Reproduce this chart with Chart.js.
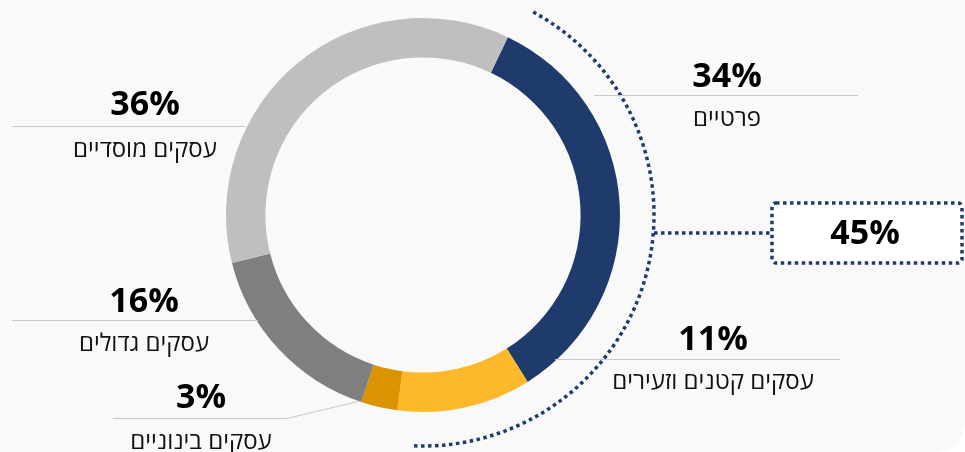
<!DOCTYPE html>
<html lang="he">
<head>
<meta charset="utf-8">
<script src="https://cdn.jsdelivr.net/npm/chart.js@4"></script>
<style>
  html, body { margin: 0; padding: 0; background: #ffffff; }
  #wrap { position: relative; width: 965px; height: 452px; background: #f9f9f9; border-bottom-right-radius: 30px; overflow: hidden; }
  canvas { display: block; }
</style>
</head>
<body>
<div id="wrap"><canvas id="chart" width="965" height="452"></canvas></div>
<script>
// segments, clockwise from the top-right
const categories = ['פרטיים', 'עסקים קטנים וזעירים', 'עסקים בינוניים', 'עסקים גדולים', 'עסקים מוסדיים'];
const values = [34, 11, 3, 16, 36];
const segColors = ['#1F3B6C', '#FDB92B', '#D99400', '#7F7F7F', '#BFBFBF'];
// the bracketed group (first two segments)
const groupIdx = [0, 1];

const FONT = '"Open Sans", "DejaVu Sans", sans-serif';
const NAVY = '#1F3B6C';

// label placement per segment
const labelPos = [
  { x: 727, pctY: 87,  nameY: 126, line: [594, 95, 858] },
  { x: 713, pctY: 350, nameY: 389, line: [555, 359, 840] },
  { x: 201, pctY: 408, nameY: 449, line: [113, 418, 287], leader: [360, 401] },
  { x: 144, pctY: 312, nameY: 351, line: [12, 320, 258] },
  { x: 145, pctY: 115, nameY: 157, line: [12, 126, 246] }
];

const labelsPlugin = {
  id: 'labels',
  afterDatasetsDraw(chart) {
    const ctx = chart.ctx;
    ctx.save();
    labelPos.forEach((p, i) => {
      ctx.strokeStyle = '#C8C8C8';
      ctx.lineWidth = 1;
      ctx.beginPath();
      ctx.moveTo(p.line[0], p.line[1] + 0.5);
      ctx.lineTo(p.line[2], p.line[1] + 0.5);
      if (p.leader) ctx.lineTo(p.leader[0], p.leader[1]);
      ctx.stroke();
      ctx.fillStyle = '#000';
      ctx.textAlign = 'center';
      ctx.textBaseline = 'alphabetic';
      ctx.font = 'bold 34px ' + FONT;
      ctx.fillText(values[i] + '%', p.x, p.pctY);
      ctx.fillStyle = '#111';
      ctx.font = '24px ' + FONT;
      ctx.direction = 'rtl';
      ctx.fillText(categories[i], p.x, p.nameY);
      ctx.direction = 'ltr';
    });
    ctx.restore();
  }
};

const bracketPlugin = {
  id: 'bracket',
  afterDatasetsDraw(chart) {
    const arcs = chart.getDatasetMeta(0).data;
    const first = arcs[groupIdx[0]], last = arcs[groupIdx[groupIdx.length - 1]];
    const cx = first.x, cy = first.y;
    const r = first.outerRadius + 34;
    const a0 = first.startAngle + 3 * Math.PI / 180;
    const a1 = last.endAngle - 5 * Math.PI / 180;
    const ctx = chart.ctx;
    ctx.save();
    ctx.strokeStyle = NAVY;
    ctx.lineWidth = 3.5;
    ctx.setLineDash([3.5, 3.5]);
    ctx.beginPath();
    ctx.arc(cx, cy, r, a0, a1);
    ctx.stroke();
    // connector and box
    const by = 233;
    const bx = 772, bw = 190, bh = 60;
    ctx.beginPath();
    ctx.moveTo(cx + r, by);
    ctx.lineTo(bx, by);
    ctx.stroke();
    ctx.fillStyle = '#ffffff';
    ctx.beginPath();
    ctx.roundRect(bx, by - bh / 2, bw, bh, 4);
    ctx.fill();
    ctx.stroke();
    ctx.setLineDash([]);
    const total = groupIdx.reduce((s, k) => s + values[k], 0);
    ctx.fillStyle = '#000';
    ctx.font = 'bold 34px ' + FONT;
    ctx.textAlign = 'center';
    ctx.textBaseline = 'middle';
    ctx.fillText(total + '%', bx + bw / 2 - 2, by + 1);
    ctx.restore();
  }
};

new Chart(document.getElementById('chart'), {
  type: 'doughnut',
  data: {
    labels: categories,
    datasets: [{ data: values, backgroundColor: segColors, borderWidth: 0 }]
  },
  options: {
    responsive: false,
    animation: false,
    rotation: 25.5,
    cutout: '80%',
    layout: { padding: { left: 226, right: 345, top: 18, bottom: 40 } },
    plugins: { legend: { display: false }, tooltip: { enabled: false } }
  },
  plugins: [bracketPlugin, labelsPlugin]
});
</script>
</body>
</html>
